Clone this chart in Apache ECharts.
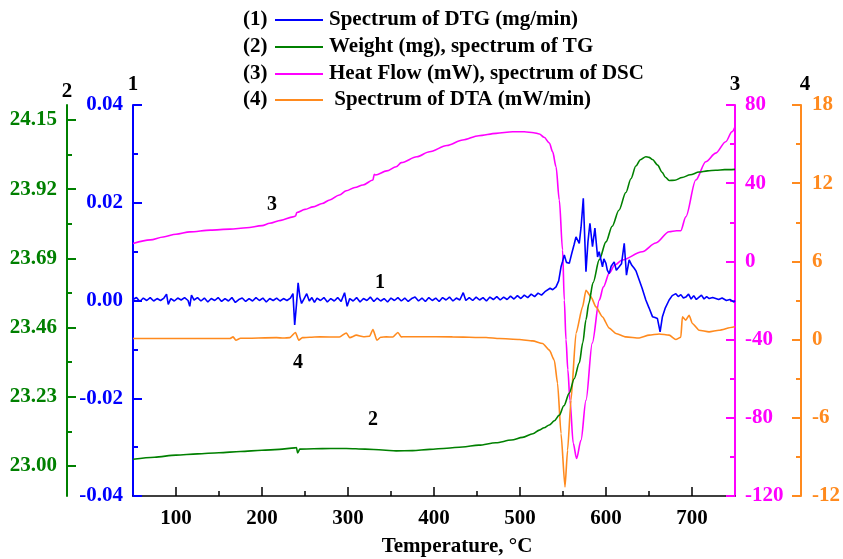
<!DOCTYPE html>
<html>
<head>
<meta charset="utf-8">
<script src="https://cdn.jsdelivr.net/npm/echarts@6/dist/echarts.min.js"></script>
<style>
html,body{margin:0;padding:0;background:#fff;}
#chart{width:843px;height:559px;}
</style>
</head>
<body>
<div id="chart"></div>
<script>
// ---------- DATA ----------
const xTickLabels = [100, 200, 300, 400, 500, 600, 700];
const xMinorTicks = [150, 250, 350, 450, 550, 650];
const tgTickLabels = [23.00, 23.23, 23.46, 23.69, 23.92, 24.15];
const tgMinorTicks = [23.115, 23.345, 23.575, 23.805, 24.035];

const legendNums = ['(1)', '(2)', '(3)', '(4)'];
const legendTexts = ['Spectrum of DTG (mg/min)', 'Weight (mg), spectrum of TG', 'Heat Flow (mW), spectrum of DSC', ' Spectrum of DTA (mW/min)'];
const axisNames = ['1', '2', '3', '4'];

// Series 1: DTG (mg/min)
const dtgT = [50,54,58,62,66,70,74,78,82,86,89,91,94,98,102,106,110,114,116,118,121,125,129,133,137,141,145,149,153,157,161,165,169,173,177,181,185,189,193,197,201,205,209,213,217,221,225,229,233,236,238,240,242,244,246,249,252,255,258,261,264,268,272,276,280,284,288,292,296,299,302,306,310,314,318,322,326,330,334,338,342,346,350,354,358,362,366,370,374,378,382,386,390,394,398,402,406,410,414,418,422,426,430,434,437,441,445,449,453,457,461,465,469,473,477,481,485,489,493,497,501,505,509,513,517,521,525,529,
  530.3,535,538,541.9,545,547.7,549.5,551.5,554,557.3,560,563,565.1,568.9,571,573.6,576.7,579,581.3,584.3,587.1,590.2,592,594.1,595.9,597.5,599.9,601.5,603.7,606,609.5,612,615.3,618,621.2,623.8,626.9,630,632.8,635,638.6,642,646.3,650,654,657,659.8,662.9,665.6,669,673.4,677,681.2,684,687,690,692.8,696,699,702,705,708.2,711,714,717,720,724,727.6,731,735,740,744,748.8,750];
const dtgV = [0.0002,0.0006,-0.0002,0.0005,0.0000,0.0006,-0.0001,0.0004,0.0000,0.0005,0.0013,-0.0008,0.0004,-0.0001,0.0005,0.0001,0.0006,0.0000,-0.0012,0.0011,0.0001,0.0006,-0.0001,0.0005,-0.0003,0.0004,0.0000,0.0006,-0.0002,0.0004,-0.0001,0.0006,-0.0004,0.0002,0.0005,-0.0002,0.0004,-0.0001,0.0006,0.0000,0.0005,-0.0003,0.0004,0.0000,0.0005,-0.0001,0.0004,0.0000,0.0005,0.0014,-0.0050,-0.0010,0.0036,0.0008,-0.0006,0.0004,0.0014,-0.0001,0.0006,-0.0004,0.0005,0.0000,0.0006,-0.0003,0.0004,-0.0001,0.0006,-0.0002,0.0016,-0.0012,0.0004,-0.0001,0.0006,-0.0003,0.0004,0.0000,0.0007,-0.0002,0.0005,-0.0001,0.0004,-0.0003,0.0005,0.0000,0.0006,-0.0001,0.0005,-0.0002,0.0004,0.0007,-0.0001,0.0005,-0.0002,0.0006,0.0000,0.0005,-0.0002,0.0006,0.0001,0.0007,-0.0001,0.0005,0.0001,0.0016,0.0000,0.0006,0.0000,0.0007,0.0001,0.0006,-0.0001,0.0007,0.0002,0.0008,0.0001,0.0007,0.0002,0.0009,0.0003,0.0010,0.0004,0.0011,0.0006,0.0013,0.0008,0.0015,0.0011,0.0018,
  0.0021,0.0025,0.0022,0.0028,0.0040,0.0069,0.0080,0.0093,0.0078,0.0076,0.0095,0.0115,0.0130,0.0117,0.0150,0.0209,0.0059,0.0120,0.0158,0.0110,0.0148,0.0089,0.0100,0.0097,0.0069,0.0085,0.0076,0.0062,0.0055,0.0070,0.0079,0.0062,0.0069,0.0075,0.0117,0.0052,0.0083,0.0072,0.0066,0.0060,0.0042,0.0025,0.0001,-0.0015,-0.0033,-0.0035,-0.0037,-0.0064,-0.0033,-0.0015,0.0001,0.0010,0.0014,0.0008,0.0012,0.0005,0.0007,0.0013,0.0003,0.0010,0.0002,0.0007,0.0011,0.0003,0.0008,0.0004,0.0006,0.0004,0.0002,0.0005,0.0000,0.0002,-0.0003,0.0000];

// Series 2: TG weight (mg)
const tgT = [50,75,100,125,150,175,200,220,238,240,241.5,244,260,280,298,320,340,356,375,395,415,433,452,472,490,503,515,522.5,528,534,540,545.7,551,557.3,563,568.9,573,576.7,580,585,592.2,600,607.2,615,623.1,629,634.7,640,646.3,650,654,660,665.3,669,673.4,680,688.5,698,708.2,718,727.6,738,750];
const tgV = [23.022,23.029,23.036,23.040,23.044,23.048,23.052,23.055,23.060,23.061,23.043,23.056,23.057,23.058,23.058,23.056,23.053,23.050,23.051,23.055,23.059,23.063,23.069,23.077,23.086,23.095,23.107,23.119,23.127,23.136,23.150,23.169,23.200,23.242,23.290,23.342,23.410,23.486,23.540,23.610,23.686,23.745,23.797,23.850,23.909,23.955,23.997,24.018,24.028,24.026,24.019,24.000,23.976,23.960,23.949,23.950,23.959,23.968,23.977,23.981,23.983,23.985,23.986];

// Series 3: DSC heat flow (mW)
const dscT = [50,70,85.2,100,116.2,140,162.6,182,200,209,222,236,239,240.5,250,259.3,270,278.7,290,298,308,317.4,329,330.5,332,345,356,362,380,394.8,415,433.4,452,472.2,491.5,505,516,522.5,528,534.1,538,541.9,545.7,549.5,551.5,553.5,555.6,558.1,561.9,565.8,570.9,576.7,584,592.2,597,603.8,610,618.8,642.1,657.9,673.4,682,686.9,692.8,704.4,716,727.6,739.2,746.5,750];
const dscV = [9.1,11.0,12.5,13.9,15.1,16.0,16.5,17.2,18.3,19.5,21.0,22.8,23.2,25.0,26.6,27.9,29.6,31.4,34.0,36.1,37.8,39.1,41.6,44.5,44.2,46.3,48.4,50.5,53.5,56.1,59.3,62.1,64.3,65.5,66.3,66.3,65.8,65.2,63.5,60.6,56.0,48.4,31.4,5.8,-19.8,-40.1,-55.4,-71.1,-93.0,-100.8,-91.5,-71.1,-41.8,-19.8,-13.0,-6.0,-2.0,0.7,4.9,9.4,15.2,15.7,15.7,22.8,41.6,51.0,55.4,61.2,66.3,68.9];

// Series 4: DTA (mW/min)
const dtaT = [50,100,162.6,166.4,169.6,175,216.8,225,232.3,238.9,242.7,247,255.5,267.1,290,298.1,302,309.7,318,325.1,329,333.6,338,344.5,352,358,361.9,366,383.2,421.5,460.6,476,499.3,514.7,526.3,534.1,539.9,543.7,547.7,552.3,555.3,559.3,565.1,572.7,576.7,582.5,588.3,595.9,603.7,611.5,623.1,638.6,650.2,661.8,673.4,681.2,687,688.8,692.8,696.6,700.4,708.2,719.8,731.4,746.9,750];
const dtaV = [0.08,0.08,0.08,0.21,-0.05,0.10,0.15,0.12,0.15,0.55,-0.05,0.15,0.18,0.21,0.20,0.51,0.15,0.34,0.22,0.26,0.78,-0.05,0.18,0.21,0.20,0.55,0.21,0.22,0.22,0.21,0.16,0.08,0.01,-0.10,-0.30,-0.81,-1.58,-3.37,-7.21,-11.31,-8.49,-4.65,0.47,2.51,3.79,3.28,2.51,1.74,0.88,0.47,0.21,0.12,0.34,0.43,0.34,0.01,0.18,1.74,1.49,1.87,1.24,0.72,0.59,0.72,0.95,0.98];

// ---------- STYLE ----------
const FONT = 'Liberation Serif';
const C_BLUE = '#0000ff', C_GREEN = '#008000', C_MAG = '#ff00ff', C_ORANGE = '#ff8a1e';
const seriesColors = [C_BLUE, C_GREEN, C_MAG, C_ORANGE];

function pairs(t, v) { return t.map((x, i) => [x, v[i]]); }

const lbl = (color) => ({ color: color, fontFamily: FONT, fontWeight: 'bold', fontSize: 21 });
const nameStyle = { color: '#000', fontFamily: FONT, fontWeight: 'bold', fontSize: 21 };

const chart = echarts.init(document.getElementById('chart'), null, { renderer: 'canvas' });

const legendGraphics = [];
const rowY = [20, 47, 74, 100];
legendNums.forEach((n, i) => {
  legendGraphics.push({ type: 'text', left: 243, top: rowY[i] - 11,
    style: { text: n, fill: '#000', font: 'bold 21px ' + FONT } });
  legendGraphics.push({ type: 'line', shape: { x1: 275, y1: rowY[i], x2: 323, y2: rowY[i] },
    style: { stroke: seriesColors[i], lineWidth: 2 } });
  legendGraphics.push({ type: 'text', left: 329, top: rowY[i] - 11,
    style: { text: legendTexts[i], fill: '#000', font: 'bold 21px ' + FONT } });
});
const annots = [['1', 380, 283], ['2', 373, 420], ['3', 272, 205], ['4', 298, 363]];
annots.forEach(a => legendGraphics.push({ type: 'text', x: a[1], y: a[2],
  style: { text: a[0], fill: '#000', font: 'bold 20px ' + FONT, textAlign: 'center', textVerticalAlign: 'middle' } }));
legendGraphics.push({ type: 'text', x: 457, y: 547,
  style: { text: 'Temperature, °C', fill: '#000', font: 'bold 21px ' + FONT, textAlign: 'center', textVerticalAlign: 'middle' } });

const option = {
  animation: false,
  backgroundColor: '#fff',
  grid: { left: 133, right: 106, top: 105, bottom: 63, containLabel: false },
  graphic: legendGraphics,
  xAxis: [
    { type: 'value', min: 50, max: 750, position: 'bottom',
      axisLine: { show: true, onZero: false, lineStyle: { color: '#000', width: 1.5 } },
      axisTick: { show: true, inside: true, length: 9, customValues: xTickLabels, lineStyle: { color: '#000', width: 1.5 } },
      axisLabel: { customValues: xTickLabels, margin: 12, ...lbl('#000') },
      splitLine: { show: false } },
    { type: 'value', min: 50, max: 750, position: 'bottom',
      axisLine: { show: false, onZero: false },
      axisTick: { show: true, inside: true, length: 5, customValues: xMinorTicks, lineStyle: { color: '#000', width: 1.5 } },
      axisLabel: { show: false }, splitLine: { show: false } }
  ],
  yAxis: [
    { type: 'value', position: 'left', offset: 0, min: -0.04, max: 0.04, interval: 0.02,
      name: axisNames[0], nameLocation: 'end', nameGap: 3, nameTextStyle: nameStyle,
      axisLine: { show: true, onZero: false, lineStyle: { color: C_BLUE, width: 2 } },
      axisTick: { show: true, inside: true, length: 9, lineStyle: { color: C_BLUE, width: 2 } },
      minorTick: { show: true, splitNumber: 2, length: 5, lineStyle: { color: C_BLUE, width: 2 } },
      axisLabel: { margin: 10, formatter: v => v.toFixed(2), ...lbl(C_BLUE) },
      splitLine: { show: false } },
    { type: 'value', position: 'left', offset: 66, min: 22.9, max: 24.2,
      name: axisNames[1], nameLocation: 'end', nameGap: 3, nameTextStyle: nameStyle,
      axisLine: { show: true, onZero: false, lineStyle: { color: C_GREEN, width: 2 } },
      axisTick: { show: true, inside: true, length: 9, customValues: tgTickLabels, lineStyle: { color: C_GREEN, width: 2 } },
      axisLabel: { margin: 10, customValues: tgTickLabels, formatter: v => v.toFixed(2), ...lbl(C_GREEN) },
      splitLine: { show: false } },
    { type: 'value', position: 'right', offset: 0, min: -120, max: 80, interval: 40,
      name: axisNames[2], nameLocation: 'end', nameGap: 5, nameTextStyle: nameStyle,
      axisLine: { show: true, onZero: false, lineStyle: { color: C_MAG, width: 2 } },
      axisTick: { show: true, inside: true, length: 9, lineStyle: { color: C_MAG, width: 2 } },
      minorTick: { show: true, splitNumber: 2, length: 5, lineStyle: { color: C_MAG, width: 2 } },
      axisLabel: { margin: 10, ...lbl(C_MAG) },
      splitLine: { show: false } },
    { type: 'value', position: 'right', offset: 66, min: -12, max: 18, interval: 6,
      name: axisNames[3], nameLocation: 'end', nameGap: 5, nameTextStyle: { ...nameStyle, padding: [0, 0, 0, 8] },
      axisLine: { show: true, onZero: false, lineStyle: { color: C_ORANGE, width: 2 } },
      axisTick: { show: true, inside: true, length: 9, lineStyle: { color: C_ORANGE, width: 2 } },
      minorTick: { show: true, splitNumber: 2, length: 5, lineStyle: { color: C_ORANGE, width: 2 } },
      axisLabel: { margin: 11, ...lbl(C_ORANGE) },
      splitLine: { show: false } },
    { type: 'value', position: 'left', offset: 66, min: 22.9, max: 24.2,
      axisLine: { show: false, onZero: false },
      axisTick: { show: true, inside: true, length: 5, customValues: tgMinorTicks, lineStyle: { color: C_GREEN, width: 2 } },
      axisLabel: { show: false }, splitLine: { show: false } }
  ],
  series: [
    { name: legendTexts[0], type: 'line', xAxisIndex: 0, yAxisIndex: 0, data: pairs(dtgT, dtgV),
      showSymbol: false, lineStyle: { color: C_BLUE, width: 1.6 }, itemStyle: { color: C_BLUE }, z: 4 },
    { name: legendTexts[1], type: 'line', xAxisIndex: 0, yAxisIndex: 1, data: pairs(tgT, tgV),
      showSymbol: false, smooth: 0.3, smoothMonotone: 'x', lineStyle: { color: C_GREEN, width: 1.6 }, itemStyle: { color: C_GREEN }, z: 3 },
    { name: legendTexts[2], type: 'line', xAxisIndex: 0, yAxisIndex: 2, data: pairs(dscT, dscV),
      showSymbol: false, smooth: 0.3, smoothMonotone: 'x', lineStyle: { color: C_MAG, width: 1.6 }, itemStyle: { color: C_MAG }, z: 2 },
    { name: legendTexts[3], type: 'line', xAxisIndex: 0, yAxisIndex: 3, data: pairs(dtaT, dtaV),
      showSymbol: false, smooth: 0.2, smoothMonotone: 'x', lineStyle: { color: C_ORANGE, width: 1.6 }, itemStyle: { color: C_ORANGE }, z: 2 }
  ]
};
chart.setOption(option);
</script>
</body>
</html>
